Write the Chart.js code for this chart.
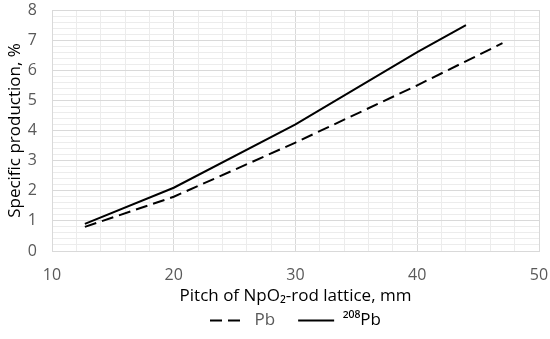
<!DOCTYPE html>
<html>
<head>
<meta charset="utf-8">
<script src="https://cdn.jsdelivr.net/npm/chart.js@4/dist/chart.umd.min.js"></script>
<style>
  html, body { margin: 0; padding: 0; background: #fff; }
  #wrap { width: 550px; height: 339px; position: relative; }
</style>
</head>
<body>
<div id="wrap"><canvas id="chart"></canvas></div>
<script>
// pitch of lattice, mm
const pitchPb = [12.7, 20, 30, 40, 47];
const pitch208 = [12.7, 20, 30, 40, 44];
// specific production, %
const prodPb = [0.8, 1.8, 3.6, 5.5, 6.9];
const prod208 = [0.9, 2.1, 4.2, 6.6, 7.5];
const seriesNames = ['Pb', '\u00B2\u2070\u2078Pb'];

const toPoints = (xs, ys) => xs.map((x, i) => ({ x: x, y: ys[i] }));
const isWhole = (v, step) => Math.abs(v / step - Math.round(v / step)) < 1e-6;
const family = 'Open Sans, Noto Sans, sans-serif';
const tickFont = { family: family, size: 16 };

document.addEventListener('DOMContentLoaded', function () {
    const ctx = document.getElementById('chart').getContext('2d');
    new Chart(ctx, {
        type: 'line',
        data: {
            datasets: [{
                label: seriesNames[0],
                data: toPoints(pitchPb, prodPb),
                borderColor: '#000',
                borderWidth: 2,
                borderDash: [12, 6],
                pointRadius: 0,
                fill: false
            }, {
                label: seriesNames[1],
                data: toPoints(pitch208, prod208),
                borderColor: '#000',
                borderWidth: 2,
                pointRadius: 0,
                fill: false
            }]
        },
        options: {
            responsive: true,
            maintainAspectRatio: false,
            animation: false,
            layout: { padding: { left: 5, right: 0, top: 0, bottom: 0 } },
            scales: {
                x: {
                    type: 'linear',
                    min: 10, max: 50,
                    ticks: {
                        stepSize: 2, autoSkip: false, maxRotation: 0,
                        color: '#595959', font: tickFont, padding: 15,
                        callback: v => isWhole(v, 10) ? v : ''
                    },
                    grid: {
                        drawTicks: false,
                        color: c => isWhole(c.tick.value, 10) ? '#d9d9d9' : '#ececec'
                    },
                    border: { color: '#d9d9d9' },
                    title: {
                        display: true,
                        text: 'Pitch of NpO\u2082-rod lattice, mm',
                        color: '#000',
                        font: { family: family, size: 17 },
                        padding: { top: 0, bottom: 0 }
                    },
                    afterFit: s => {
                        s.height = 55;
                        s.paddingLeft = 0;
                        s.paddingRight = 11;
                    }
                },
                y: {
                    min: 0, max: 8,
                    ticks: {
                        stepSize: 0.2, autoSkip: false,
                        color: '#595959', font: tickFont, padding: 15,
                        callback: v => isWhole(v, 1) ? Math.round(v) : ''
                    },
                    grid: {
                        drawTicks: false,
                        color: c => isWhole(c.tick.value, 1) ? '#d9d9d9' : '#ececec'
                    },
                    border: { color: '#d9d9d9' },
                    title: {
                        display: true,
                        text: 'Specific production, %',
                        color: '#000',
                        font: { family: family, size: 17 },
                        padding: { top: 0, bottom: 0 }
                    },
                    afterFit: s => {
                        s.width = 47;
                        s.paddingTop = 10;
                        s.paddingBottom = 0;
                    }
                }
            },
            plugins: {
                legend: {
                    position: 'bottom',
                    fullSize: false,
                    labels: {
                        usePointStyle: true,
                        pointStyleWidth: 36,
                        padding: 6,
                        font: { family: family, size: 17 },
                        generateLabels: chart => chart.data.datasets.map((ds, i) => ({
                            text: i === 0 ? ds.label + '\u2002\u2002' : ds.label,
                            datasetIndex: i,
                            pointStyle: 'line',
                            strokeStyle: '#000',
                            fillStyle: '#000',
                            lineWidth: 2,
                            lineDash: ds.borderDash || [],
                            fontColor: i === 0 ? '#595959' : '#000',
                            hidden: false
                        }))
                    }
                },
                tooltip: { enabled: false }
            }
        }
    });
});
</script>
</body>
</html>
